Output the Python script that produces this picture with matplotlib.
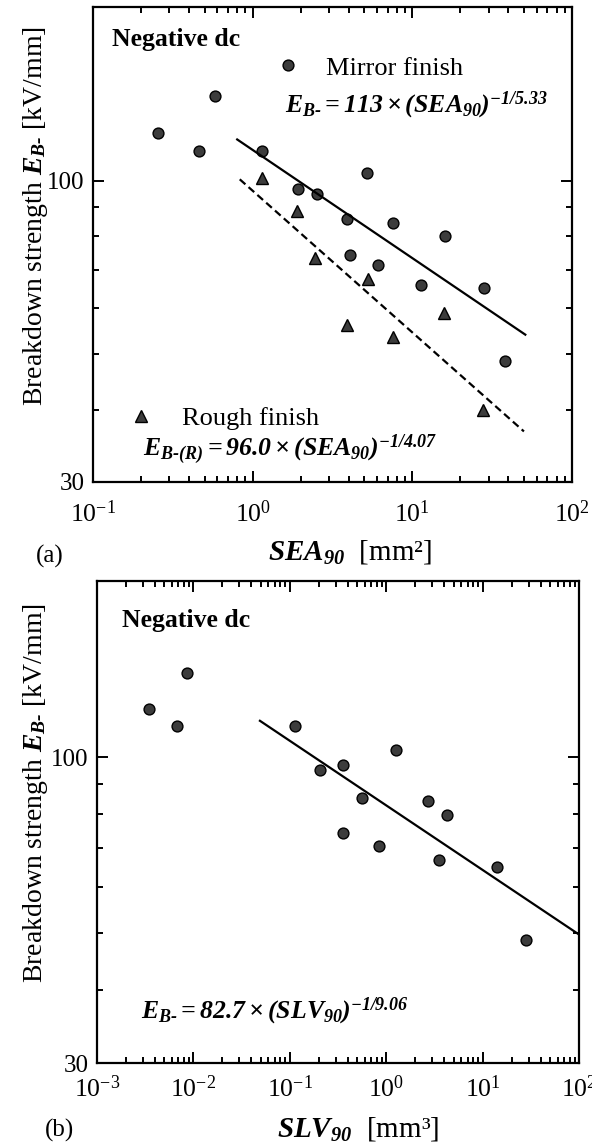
import numpy as np
import matplotlib
matplotlib.use("Agg")
import matplotlib.pyplot as plt
from matplotlib.lines import Line2D
from matplotlib.ticker import LogLocator, NullFormatter, FixedLocator, FixedFormatter

plt.rcParams['font.family'] = ['Liberation Serif', 'DejaVu Serif']
plt.rcParams['mathtext.fontset'] = 'custom'
plt.rcParams['mathtext.rm'] = 'Liberation Serif:bold:italic'
plt.rcParams['mathtext.it'] = 'Liberation Serif:bold:italic'
plt.rcParams['mathtext.bf'] = 'Liberation Serif:bold'

# (a) breakdown strength vs SEA90, mirror finish
mirror_sea = [0.257, 0.464, 0.581, 1.14, 1.93, 2.52, 3.88, 4.06, 5.18, 6.12, 7.6, 11.3, 16.0, 28.1, 38.0]
mirror_eb = [121, 112.7, 140, 112.7, 96.6, 94.9, 85.7, 74.4, 103, 71.3, 84.4, 66.0, 80.2, 65.1, 48.6]

# (a) rough finish
rough_sea = [1.14, 1.90, 2.45, 3.88, 5.30, 7.6, 15.8, 27.6]
rough_eb = [101, 88.7, 73.3, 56.1, 67.4, 53.6, 59.0, 40.0]

# (b) breakdown strength vs SLV90
slv = [0.0035, 0.0067, 0.0085, 0.113, 0.206, 0.354, 0.354, 0.565, 0.848, 1.26, 2.74, 3.56, 4.30, 14.1, 27.9]
slv_eb = [121, 113, 139.3, 113, 95, 96.8, 74.3, 85, 70.6, 103, 84, 66.7, 79.7, 65.0, 48.7]

# fit lines: E = k * x^(-1/n), drawn over [x0, x1]
fit_mirror = (113.0, 5.33, 0.8, 51.0)
fit_rough = (96.0, 4.07, 0.83, 50.0)
fit_slv = (82.7, 9.06, 0.049, 100.0)

EQ_FS = 18.5
face = '#3c3c3c'


def fit_xy(fit):
    k, n, x0, x1 = fit
    x = np.array([x0, x1])
    return x, k * x ** (-1.0 / n)


def style_axes(ax, xlim, xpad):
    ax.set_xscale('log')
    ax.set_yscale('log')
    ax.set_xlim(*xlim)
    ax.set_ylim(30, 200)
    ax.yaxis.set_major_locator(FixedLocator([30, 100]))
    ax.yaxis.set_major_formatter(FixedFormatter(['30', '100']))
    ax.yaxis.set_minor_locator(FixedLocator([40, 50, 60, 70, 80, 90, 200]))
    ax.yaxis.set_minor_formatter(NullFormatter())
    ax.xaxis.set_major_locator(LogLocator(base=10, numticks=20))
    ax.xaxis.set_minor_locator(LogLocator(base=10, subs=np.arange(2, 10), numticks=20))
    ax.xaxis.set_minor_formatter(NullFormatter())
    ax.tick_params(which='both', direction='in', top=True, right=True, width=1.4)
    ax.tick_params(which='major', length=8)
    ax.tick_params(which='minor', length=4.5)
    ax.tick_params(axis='x', which='major', labelsize=18.5, pad=xpad)
    ax.tick_params(axis='y', which='major', labelsize=18, pad=6)
    for s in ax.spines.values():
        s.set_linewidth(1.6)


fig = plt.figure(figsize=(5.92, 11.48), dpi=100)

# ---- panel (a)
ax1 = fig.add_axes([93 / 592, 1 - 482 / 1148, 479 / 592, 475 / 1148])
style_axes(ax1, (0.1, 100), 13)
ax1.plot(mirror_sea, mirror_eb, 'o', ms=7.8, mfc=face, mec='k', mew=1)
ax1.plot(rough_sea, rough_eb, '^', ms=8.5, mfc=face, mec='k', mew=1)
x, y = fit_xy(fit_mirror)
ax1.plot(x, y, '-', color='k', lw=1.6)
x, y = fit_xy(fit_rough)
ax1.plot(x, y, '--', color='k', lw=1.6, dashes=(3.4, 1.9))

ax1.text(0.04, 0.931, 'Negative dc', transform=ax1.transAxes, fontsize=18.5,
         fontweight='bold', va='center', ha='left')

h_m = Line2D([], [], ls='none', marker='o', ms=7.8, mfc=face, mec='k', mew=1)
h_r = Line2D([], [], ls='none', marker='^', ms=8.5, mfc=face, mec='k', mew=1)
leg1 = ax1.legend([h_m], ['Mirror finish'], loc='center left',
                  bbox_to_anchor=((288 - 93 - 13) / 479, (482 - 68) / 475),
                  frameon=False, fontsize=19, handlelength=1.0, handletextpad=0.95,
                  borderpad=0, borderaxespad=0)
ax1.add_artist(leg1)
ax1.legend([h_r], ['Rough finish'], loc='center left',
           bbox_to_anchor=((141 - 93 - 13) / 479, (482 - 418) / 475),
           frameon=False, fontsize=19, handlelength=1.0, handletextpad=1.05,
           borderpad=0, borderaxespad=0)

ax1.text(0.401, 0.792, r'$E_{B\text{-}}=113\times(SEA_{90})^{-1/5.33}$',
         transform=ax1.transAxes, fontsize=EQ_FS, va='center', ha='left')
ax1.text(0.104, 0.067, r'$E_{B\text{-}(R)}=96.0\times(SEA_{90})^{-1/4.07}$',
         transform=ax1.transAxes, fontsize=EQ_FS, va='center', ha='left')

ax1.set_ylabel(r'Breakdown strength $E_{B\text{-}}$ [kV/mm]', fontsize=20)
ax1.yaxis.set_label_coords(-0.09, 0.56)
ax1.set_xlabel(r'$SEA_{90}$  [mm²]', fontsize=21)
ax1.xaxis.set_label_coords(0.537, -0.118)
fig.text(50 / 592, 1 - 556 / 1148, '(a)', fontsize=18, ha='center', va='center')

# ---- panel (b)
ax2 = fig.add_axes([97 / 592, 1 - 1063 / 1148, 482 / 592, 482 / 1148])
style_axes(ax2, (1e-3, 100), 9)
ax2.plot(slv, slv_eb, 'o', ms=7.8, mfc=face, mec='k', mew=1)
x, y = fit_xy(fit_slv)
ax2.plot(x, y, '-', color='k', lw=1.6)

ax2.text(0.052, 0.919, 'Negative dc', transform=ax2.transAxes, fontsize=18.5,
         fontweight='bold', va='center', ha='left')
ax2.text(0.092, 0.107, r'$E_{B\text{-}}=82.7\times(SLV_{90})^{-1/9.06}$',
         transform=ax2.transAxes, fontsize=EQ_FS, va='center', ha='left')

ax2.set_ylabel(r'Breakdown strength $E_{B\text{-}}$ [kV/mm]', fontsize=20)
ax2.yaxis.set_label_coords(-0.098, 0.56)
ax2.set_xlabel(r'$SLV_{90}$  [mm³]', fontsize=21)
ax2.xaxis.set_label_coords(0.542, -0.108)
fig.text(60 / 592, 1 - 1130 / 1148, '(b)', fontsize=18, ha='center', va='center')

fig.savefig('out.png', dpi=100)
